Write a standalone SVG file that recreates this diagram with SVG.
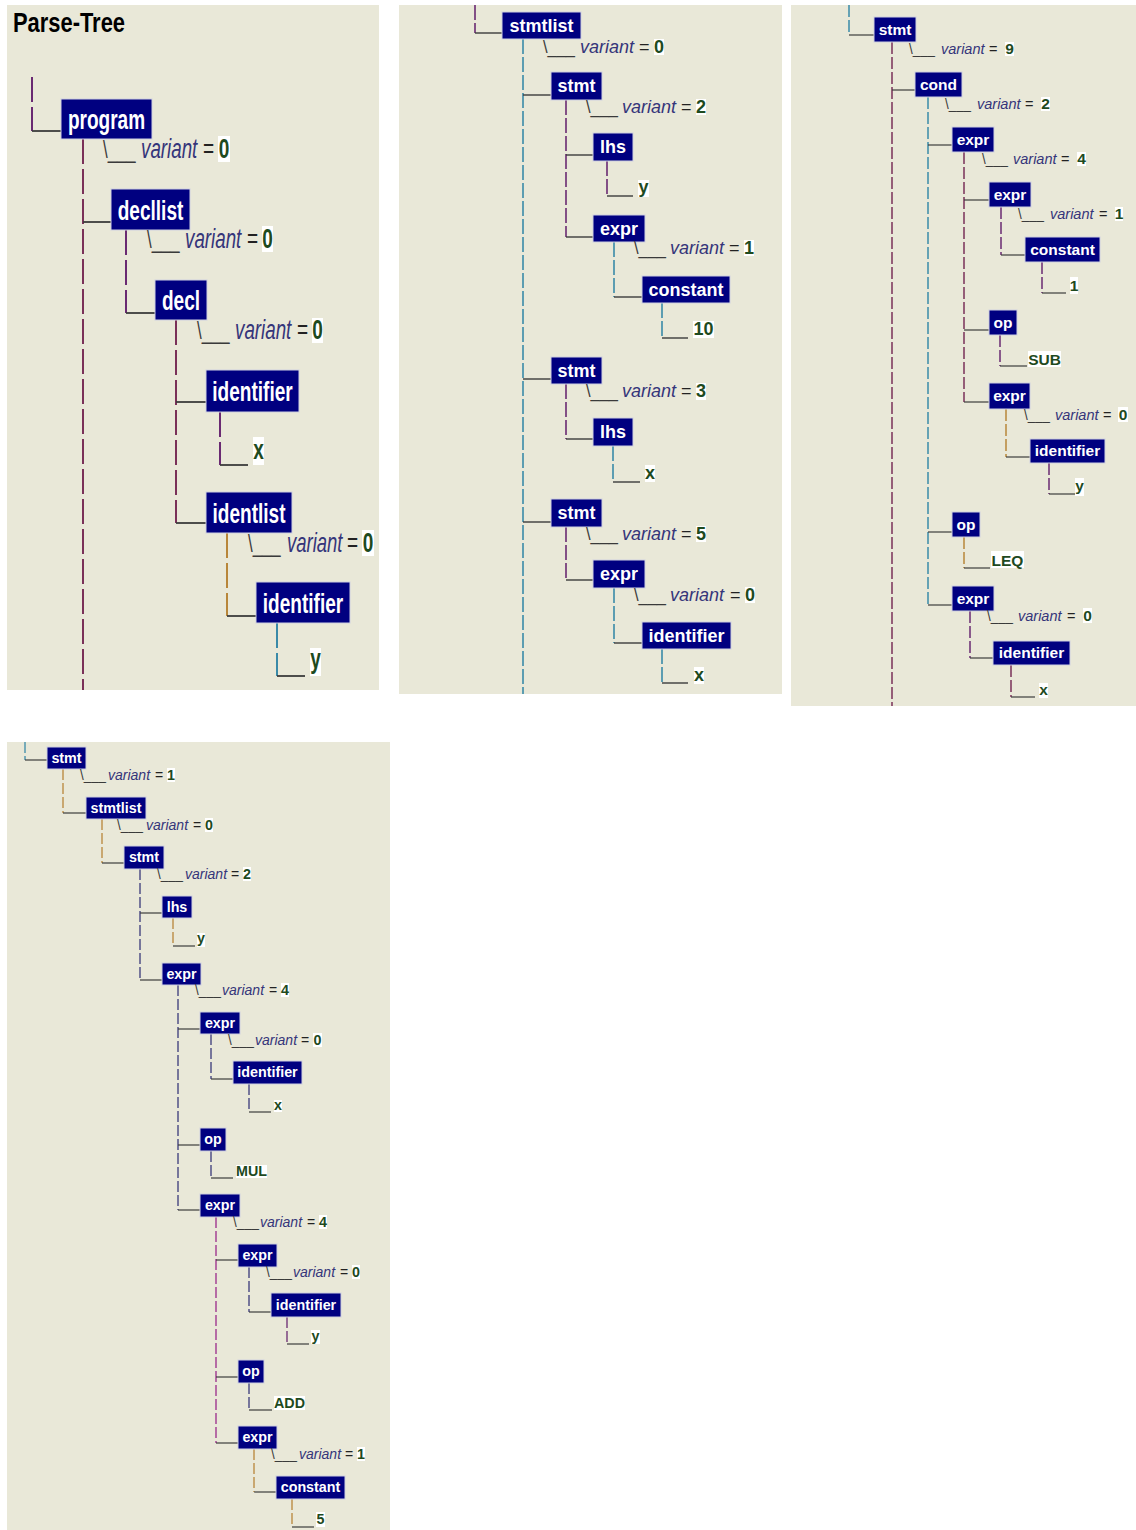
<svg xmlns="http://www.w3.org/2000/svg" width="1136" height="1530" viewBox="0 0 1136 1530">
<style>
text{font-family:"Liberation Sans",Arial,sans-serif}
.bg{fill:#e9e8d8}
.box{fill:#000080;stroke:#cfd0e0;stroke-width:1}
.lbl{fill:#fff;font-weight:bold;text-anchor:middle}
.bs{fill:#3a3a3a}
.var{fill:#35357a;font-style:italic}
.eq{fill:#222}
.vb{fill:#fff}
.val{fill:#1e4a1e;font-weight:bold;text-anchor:middle}
.p1{font-size:28px}
.p1 .bs{font-size:24px}
.p2{font-size:18px}
.p3{font-size:15.5px}
.p3 .var,.p3 .eq,.p3 .bs{font-size:14.5px}
.p4{font-size:14.3px}
.p4 .var,.p4 .eq,.p4 .bs{font-size:14px}
.v{fill:none}
.c1 .v{stroke-width:2;stroke-dasharray:25 5}
.c2 .v{stroke-width:1.6;stroke-dasharray:15 3}
.c3 .v{stroke-width:1.5;stroke-dasharray:12 3}
.c4 .v{stroke-width:1.3;stroke-dasharray:11 3}
.h{stroke:#3c3c3c;fill:none}
.c1 .h{stroke-width:1.8}
.c2 .h{stroke-width:1.4}
.c3 .h,.c4 .h{stroke-width:1.2}
.pu{stroke:#6a2a72}
.ma{stroke:#7a3058}
.te{stroke:#3a8aa8}
.go{stroke:#b8863a}
.db{stroke:#3a3a7a}
.mg{stroke:#9a2a8a}
</style>
<rect width="1136" height="1530" fill="#fff"/>
<rect class="bg" x="7" y="5" width="372" height="685"/>
<rect class="bg" x="399" y="5" width="383" height="689"/>
<rect class="bg" x="791" y="5" width="345" height="701"/>
<rect class="bg" x="7" y="742" width="383" height="788"/>
<text x="13" y="32" font-size="28" font-weight="bold" fill="#000" textLength="112" lengthAdjust="spacingAndGlyphs">Parse-Tree</text>

<g id="connectors">
<g class="c1">
<line class="v pu" x1="32" y1="77" x2="32" y2="131"/><line class="h" x1="32" y1="131" x2="61" y2="131"/>
<line class="v ma" x1="83" y1="139" x2="83" y2="690"/><line class="h" x1="83" y1="222" x2="111" y2="222"/>
<line class="v pu" x1="126" y1="230" x2="126" y2="313"/><line class="h" x1="126" y1="313" x2="155" y2="313"/>
<line class="v ma" x1="176" y1="320" x2="176" y2="523"/><line class="h" x1="176" y1="402" x2="206" y2="402"/><line class="h" x1="176" y1="523" x2="206" y2="523"/>
<line class="v pu" x1="220" y1="412" x2="220" y2="465"/><line class="h" x1="220" y1="465" x2="248" y2="465"/>
<line class="v go" x1="227" y1="533" x2="227" y2="616"/><line class="h" x1="227" y1="616" x2="256" y2="616"/>
<line class="v te" x1="277" y1="623" x2="277" y2="676"/><line class="h" x1="277" y1="676" x2="305" y2="676"/>
</g>
<g class="c2">
<line class="v pu" x1="475" y1="5" x2="475" y2="33"/><line class="h" x1="475" y1="33" x2="502" y2="33"/>
<line class="v te" x1="523" y1="39" x2="523" y2="694"/><line class="h" x1="523" y1="95" x2="551" y2="95"/><line class="h" x1="523" y1="379" x2="551" y2="379"/><line class="h" x1="523" y1="522" x2="551" y2="522"/>
<line class="v pu" x1="566" y1="100" x2="566" y2="237"/><line class="h" x1="566" y1="155" x2="593" y2="155"/><line class="h" x1="566" y1="237" x2="593" y2="237"/>
<line class="v pu" x1="607" y1="161" x2="607" y2="196"/><line class="h" x1="607" y1="196" x2="633" y2="196"/>
<line class="v te" x1="614" y1="242" x2="614" y2="297"/><line class="h" x1="614" y1="297" x2="642" y2="297"/>
<line class="v te" x1="662" y1="303" x2="662" y2="338"/><line class="h" x1="662" y1="338" x2="688" y2="338"/>
<line class="v pu" x1="566" y1="384" x2="566" y2="439"/><line class="h" x1="566" y1="439" x2="593" y2="439"/>
<line class="v te" x1="613" y1="446" x2="613" y2="482"/><line class="h" x1="613" y1="482" x2="640" y2="482"/>
<line class="v pu" x1="566" y1="527" x2="566" y2="580"/><line class="h" x1="566" y1="580" x2="593" y2="580"/>
<line class="v te" x1="614" y1="588" x2="614" y2="643"/><line class="h" x1="614" y1="643" x2="642" y2="643"/>
<line class="v te" x1="662" y1="649" x2="662" y2="683"/><line class="h" x1="662" y1="683" x2="688" y2="683"/>
</g>
<g class="c3">
<line class="v te" x1="849" y1="5" x2="849" y2="35"/><line class="h" x1="849" y1="35" x2="874" y2="35"/>
<line class="v ma" x1="892" y1="42" x2="892" y2="706"/><line class="h" x1="892" y1="90" x2="915" y2="90"/>
<line class="v te" x1="928" y1="97" x2="928" y2="605"/><line class="h" x1="928" y1="145" x2="952" y2="145"/><line class="h" x1="928" y1="532" x2="952" y2="532"/><line class="h" x1="928" y1="605" x2="952" y2="605"/>
<line class="v ma" x1="964" y1="152" x2="964" y2="402"/><line class="h" x1="964" y1="200" x2="989" y2="200"/><line class="h" x1="964" y1="330" x2="989" y2="330"/><line class="h" x1="964" y1="402" x2="989" y2="402"/>
<line class="v pu" x1="1001" y1="207" x2="1001" y2="255"/><line class="h" x1="1001" y1="255" x2="1025" y2="255"/>
<line class="v pu" x1="1042" y1="262" x2="1042" y2="293"/><line class="h" x1="1042" y1="293" x2="1066" y2="293"/>
<line class="v pu" x1="1000" y1="335" x2="1000" y2="366"/><line class="h" x1="1000" y1="366" x2="1027" y2="366"/>
<line class="v go" x1="1006" y1="409" x2="1006" y2="457"/><line class="h" x1="1006" y1="457" x2="1030" y2="457"/>
<line class="v pu" x1="1049" y1="463" x2="1049" y2="494"/><line class="h" x1="1049" y1="494" x2="1075" y2="494"/>
<line class="v go" x1="964" y1="537" x2="964" y2="568"/><line class="h" x1="964" y1="568" x2="990" y2="568"/>
<line class="v pu" x1="970" y1="611" x2="970" y2="658"/><line class="h" x1="970" y1="658" x2="993" y2="658"/>
<line class="v ma" x1="1011" y1="665" x2="1011" y2="697"/><line class="h" x1="1011" y1="697" x2="1035" y2="697"/>
</g>
<g class="c4">
<line class="v te" x1="25" y1="742" x2="25" y2="760"/><line class="h" x1="25" y1="760" x2="47" y2="760"/>
<line class="v go" x1="63" y1="769" x2="63" y2="813"/><line class="h" x1="63" y1="813" x2="86" y2="813"/>
<line class="v go" x1="102" y1="819" x2="102" y2="863"/><line class="h" x1="102" y1="863" x2="124" y2="863"/>
<line class="v db" x1="140" y1="869" x2="140" y2="980"/><line class="h" x1="140" y1="913" x2="162" y2="913"/><line class="h" x1="140" y1="980" x2="162" y2="980"/>
<line class="v go" x1="173" y1="918" x2="173" y2="946"/><line class="h" x1="173" y1="946" x2="195" y2="946"/>
<line class="v db" x1="178" y1="985" x2="178" y2="1210"/><line class="h" x1="178" y1="1029" x2="200" y2="1029"/><line class="h" x1="178" y1="1145" x2="200" y2="1145"/><line class="h" x1="178" y1="1210" x2="200" y2="1210"/>
<line class="v db" x1="211" y1="1034" x2="211" y2="1079"/><line class="h" x1="211" y1="1079" x2="233" y2="1079"/>
<line class="v db" x1="249" y1="1084" x2="249" y2="1112"/><line class="h" x1="249" y1="1112" x2="271" y2="1112"/>
<line class="v db" x1="211" y1="1151" x2="211" y2="1178"/><line class="h" x1="211" y1="1178" x2="233" y2="1178"/>
<line class="v mg" x1="216" y1="1217" x2="216" y2="1443"/><line class="h" x1="216" y1="1260" x2="238" y2="1260"/><line class="h" x1="216" y1="1377" x2="238" y2="1377"/><line class="h" x1="216" y1="1443" x2="238" y2="1443"/>
<line class="v db" x1="249" y1="1267" x2="249" y2="1312"/><line class="h" x1="249" y1="1312" x2="271" y2="1312"/>
<line class="v pu" x1="287" y1="1317" x2="287" y2="1344"/><line class="h" x1="287" y1="1344" x2="309" y2="1344"/>
<line class="v db" x1="249" y1="1383" x2="249" y2="1410"/><line class="h" x1="249" y1="1410" x2="272" y2="1410"/>
<line class="v go" x1="254" y1="1449" x2="254" y2="1492"/><line class="h" x1="254" y1="1492" x2="276" y2="1492"/>
<line class="v go" x1="292" y1="1499" x2="292" y2="1527"/><line class="h" x1="292" y1="1527" x2="314" y2="1527"/>
</g>
</g>

<g class="p1">
<g id="p1-program"><rect class="box" x="61" y="99" width="91" height="40"/><text class="lbl" transform="translate(106.5,129) scale(0.68,1)">program</text>
<text class="bs" transform="translate(103,158) scale(0.7,1)">\___</text><text class="var" transform="translate(141,158) scale(0.67,1)">variant</text><text class="eq" transform="translate(203,158) scale(0.68,1)">=</text><rect class="vb" x="218" y="136" width="12" height="26"/><text class="val" transform="translate(224,158) scale(0.68,1)">0</text></g>
<g id="p1-decllist"><rect class="box" x="111" y="189" width="79" height="41"/><text class="lbl" transform="translate(150.5,220) scale(0.68,1)">decllist</text>
<text class="bs" transform="translate(147,248) scale(0.7,1)">\___</text><text class="var" transform="translate(185,248) scale(0.67,1)">variant</text><text class="eq" transform="translate(247,248) scale(0.68,1)">=</text><rect class="vb" x="262" y="226" width="11" height="26"/><text class="val" transform="translate(267.5,248) scale(0.68,1)">0</text></g>
<g id="p1-decl"><rect class="box" x="155" y="280" width="52" height="40"/><text class="lbl" transform="translate(181,310) scale(0.68,1)">decl</text>
<text class="bs" transform="translate(197,339) scale(0.7,1)">\___</text><text class="var" transform="translate(235,339) scale(0.67,1)">variant</text><text class="eq" transform="translate(297,339) scale(0.68,1)">=</text><rect class="vb" x="312" y="318" width="11" height="25"/><text class="val" transform="translate(317.5,339) scale(0.68,1)">0</text></g>
<g id="p1-identifier-x"><rect class="box" x="206" y="370" width="93" height="42"/><text class="lbl" transform="translate(252.5,401) scale(0.68,1)">identifier</text>
<rect class="vb" x="253" y="437" width="11" height="28"/><text class="val" transform="translate(258.5,459) scale(0.68,1)">x</text></g>
<g id="p1-identlist"><rect class="box" x="206" y="492" width="86" height="41"/><text class="lbl" transform="translate(249,523) scale(0.68,1)">identlist</text>
<text class="bs" transform="translate(248,552) scale(0.7,1)">\___</text><text class="var" transform="translate(287,552) scale(0.66,1)">variant</text><text class="eq" transform="translate(347,552) scale(0.68,1)">=</text><rect class="vb" x="362" y="530" width="12" height="26"/><text class="val" transform="translate(368,552) scale(0.68,1)">0</text></g>
<g id="p1-identifier-y"><rect class="box" x="256" y="582" width="94" height="41"/><text class="lbl" transform="translate(303,613) scale(0.68,1)">identifier</text>
<rect class="vb" x="310" y="648" width="11" height="28"/><text class="val" transform="translate(315.5,668) scale(0.68,1)">y</text></g>
</g>

<g class="p2">
<g id="p2-stmtlist"><rect class="box" x="502" y="12" width="79" height="27"/><text class="lbl" x="541.5" y="32">stmtlist</text>
<text class="bs" x="543" y="53" textLength="32" lengthAdjust="spacingAndGlyphs">\___</text><text class="var" x="580" y="53">variant</text><text class="eq" x="639" y="53">=</text><rect class="vb" x="654" y="39" width="10" height="16"/><text class="val" x="659" y="53">0</text></g>
<g id="p2-stmt1"><rect class="box" x="551" y="72" width="51" height="28"/><text class="lbl" x="576.5" y="92">stmt</text>
<text class="bs" x="586" y="113" textLength="32" lengthAdjust="spacingAndGlyphs">\___</text><text class="var" x="622" y="113">variant</text><text class="eq" x="681" y="113">=</text><rect class="vb" x="696" y="99" width="10" height="16"/><text class="val" x="701" y="113">2</text></g>
<g id="p2-lhs1"><rect class="box" x="593" y="133" width="40" height="28"/><text class="lbl" x="613" y="153">lhs</text>
<rect class="vb" x="638" y="180" width="11" height="17"/><text class="val" x="643.5" y="193">y</text></g>
<g id="p2-expr1"><rect class="box" x="593" y="215" width="52" height="27"/><text class="lbl" x="619" y="235">expr</text>
<text class="bs" x="634" y="254" textLength="32" lengthAdjust="spacingAndGlyphs">\___</text><text class="var" x="670" y="254">variant</text><text class="eq" x="729" y="254">=</text><rect class="vb" x="744" y="240" width="10" height="16"/><text class="val" x="749" y="254">1</text></g>
<g id="p2-constant"><rect class="box" x="642" y="276" width="88" height="27"/><text class="lbl" x="686" y="296">constant</text>
<rect class="vb" x="693" y="321" width="21" height="17"/><text class="val" x="703.5" y="335">10</text></g>
<g id="p2-stmt2"><rect class="box" x="551" y="357" width="51" height="27"/><text class="lbl" x="576.5" y="377">stmt</text>
<text class="bs" x="586" y="397" textLength="32" lengthAdjust="spacingAndGlyphs">\___</text><text class="var" x="622" y="397">variant</text><text class="eq" x="681" y="397">=</text><rect class="vb" x="696" y="383" width="10" height="17"/><text class="val" x="701" y="397">3</text></g>
<g id="p2-lhs2"><rect class="box" x="593" y="418" width="40" height="28"/><text class="lbl" x="613" y="438">lhs</text>
<rect class="vb" x="645" y="465" width="10" height="17"/><text class="val" x="650" y="479">x</text></g>
<g id="p2-stmt3"><rect class="box" x="551" y="499" width="51" height="28"/><text class="lbl" x="576.5" y="519">stmt</text>
<text class="bs" x="586" y="540" textLength="32" lengthAdjust="spacingAndGlyphs">\___</text><text class="var" x="622" y="540">variant</text><text class="eq" x="681" y="540">=</text><rect class="vb" x="696" y="526" width="10" height="16"/><text class="val" x="701" y="540">5</text></g>
<g id="p2-expr2"><rect class="box" x="593" y="560" width="52" height="28"/><text class="lbl" x="619" y="580">expr</text>
<text class="bs" x="634" y="601" textLength="32" lengthAdjust="spacingAndGlyphs">\___</text><text class="var" x="670" y="601">variant</text><text class="eq" x="730" y="601">=</text><rect class="vb" x="745" y="587" width="10" height="16"/><text class="val" x="750" y="601">0</text></g>
<g id="p2-identifier"><rect class="box" x="642" y="622" width="89" height="27"/><text class="lbl" x="686.5" y="642">identifier</text>
<rect class="vb" x="694" y="667" width="10" height="17"/><text class="val" x="699" y="681">x</text></g>
</g>

<g class="p3">
<g id="p3-stmt"><rect class="box" x="874" y="17" width="42" height="25"/><text class="lbl" x="895" y="35">stmt</text>
<text class="bs" x="909" y="54" textLength="26" lengthAdjust="spacingAndGlyphs">\___</text><text class="var" x="941" y="54">variant</text><text class="eq" x="989" y="54">=</text><rect class="vb" x="1005" y="42" width="9" height="14"/><text class="val" x="1009.5" y="54">9</text></g>
<g id="p3-cond"><rect class="box" x="915" y="72" width="47" height="25"/><text class="lbl" x="938.5" y="90">cond</text>
<text class="bs" x="945" y="109" textLength="26" lengthAdjust="spacingAndGlyphs">\___</text><text class="var" x="977" y="109">variant</text><text class="eq" x="1025" y="109">=</text><rect class="vb" x="1041" y="97" width="9" height="14"/><text class="val" x="1045.5" y="109">2</text></g>
<g id="p3-expr1"><rect class="box" x="952" y="127" width="42" height="25"/><text class="lbl" x="973" y="145">expr</text>
<text class="bs" x="982" y="164" textLength="26" lengthAdjust="spacingAndGlyphs">\___</text><text class="var" x="1013" y="164">variant</text><text class="eq" x="1061" y="164">=</text><rect class="vb" x="1077" y="152" width="9" height="14"/><text class="val" x="1081.5" y="164">4</text></g>
<g id="p3-expr2"><rect class="box" x="989" y="182" width="42" height="25"/><text class="lbl" x="1010" y="200">expr</text>
<text class="bs" x="1018" y="219" textLength="26" lengthAdjust="spacingAndGlyphs">\___</text><text class="var" x="1050" y="219">variant</text><text class="eq" x="1099" y="219">=</text><rect class="vb" x="1115" y="207" width="8" height="14"/><text class="val" x="1119" y="219">1</text></g>
<g id="p3-constant"><rect class="box" x="1025" y="237" width="75" height="25"/><text class="lbl" x="1062.5" y="255">constant</text>
<rect class="vb" x="1070" y="277" width="8" height="17"/><text class="val" x="1074" y="291">1</text></g>
<g id="p3-op-sub"><rect class="box" x="989" y="310" width="28" height="25"/><text class="lbl" x="1003" y="328">op</text>
<rect class="vb" x="1028" y="351" width="33" height="16"/><text class="val" x="1044.5" y="365">SUB</text></g>
<g id="p3-expr3"><rect class="box" x="989" y="383" width="41" height="26"/><text class="lbl" x="1009.5" y="401">expr</text>
<text class="bs" x="1024" y="420" textLength="26" lengthAdjust="spacingAndGlyphs">\___</text><text class="var" x="1055" y="420">variant</text><text class="eq" x="1103" y="420">=</text><rect class="vb" x="1118" y="407" width="10" height="15"/><text class="val" x="1123" y="420">0</text></g>
<g id="p3-identifier-y"><rect class="box" x="1030" y="439" width="75" height="24"/><text class="lbl" x="1067.5" y="456">identifier</text>
<rect class="vb" x="1075" y="478" width="9" height="18"/><text class="val" x="1079.5" y="491">y</text></g>
<g id="p3-op-leq"><rect class="box" x="952" y="512" width="28" height="25"/><text class="lbl" x="966" y="530">op</text>
<rect class="vb" x="991" y="551" width="33" height="17"/><text class="val" x="1007.5" y="566">LEQ</text></g>
<g id="p3-expr4"><rect class="box" x="952" y="586" width="42" height="25"/><text class="lbl" x="973" y="604">expr</text>
<text class="bs" x="987" y="621" textLength="26" lengthAdjust="spacingAndGlyphs">\___</text><text class="var" x="1018" y="621">variant</text><text class="eq" x="1067" y="621">=</text><rect class="vb" x="1083" y="608" width="9" height="15"/><text class="val" x="1087.5" y="621">0</text></g>
<g id="p3-identifier-x"><rect class="box" x="993" y="641" width="77" height="24"/><text class="lbl" x="1031.5" y="658">identifier</text>
<rect class="vb" x="1039" y="683" width="9" height="15"/><text class="val" x="1043.5" y="695">x</text></g>
</g>

<g class="p4">
<g id="p4-stmt1"><rect class="box" x="47" y="747" width="39" height="22"/><text class="lbl" x="66.5" y="763">stmt</text>
<text class="bs" x="80" y="780" textLength="26" lengthAdjust="spacingAndGlyphs">\___</text><text class="var" x="108" y="780">variant</text><text class="eq" x="155" y="780">=</text><rect class="vb" x="167" y="768" width="8" height="14"/><text class="val" x="171" y="780">1</text></g>
<g id="p4-stmtlist"><rect class="box" x="86" y="797" width="60" height="22"/><text class="lbl" x="116" y="813">stmtlist</text>
<text class="bs" x="117" y="830" textLength="26" lengthAdjust="spacingAndGlyphs">\___</text><text class="var" x="146" y="830">variant</text><text class="eq" x="193" y="830">=</text><rect class="vb" x="205" y="818" width="8" height="14"/><text class="val" x="209" y="830">0</text></g>
<g id="p4-stmt2"><rect class="box" x="124" y="846" width="40" height="23"/><text class="lbl" x="144" y="862">stmt</text>
<text class="bs" x="157" y="879" textLength="26" lengthAdjust="spacingAndGlyphs">\___</text><text class="var" x="185" y="879">variant</text><text class="eq" x="231" y="879">=</text><rect class="vb" x="243" y="867" width="8" height="14"/><text class="val" x="247" y="879">2</text></g>
<g id="p4-lhs"><rect class="box" x="162" y="896" width="30" height="22"/><text class="lbl" x="177" y="912">lhs</text>
<rect class="vb" x="197" y="933" width="8" height="14"/><text class="val" x="201" y="943">y</text></g>
<g id="p4-expr1"><rect class="box" x="162" y="963" width="39" height="22"/><text class="lbl" x="181.5" y="979">expr</text>
<text class="bs" x="195" y="995" textLength="26" lengthAdjust="spacingAndGlyphs">\___</text><text class="var" x="222" y="995">variant</text><text class="eq" x="269" y="995">=</text><rect class="vb" x="281" y="983" width="8" height="14"/><text class="val" x="285" y="995">4</text></g>
<g id="p4-expr2"><rect class="box" x="200" y="1012" width="40" height="22"/><text class="lbl" x="220" y="1028">expr</text>
<text class="bs" x="228" y="1045" textLength="26" lengthAdjust="spacingAndGlyphs">\___</text><text class="var" x="255" y="1045">variant</text><text class="eq" x="301" y="1045">=</text><rect class="vb" x="313" y="1033" width="9" height="14"/><text class="val" x="317.5" y="1045">0</text></g>
<g id="p4-identifier-x"><rect class="box" x="233" y="1061" width="69" height="23"/><text class="lbl" x="267.5" y="1077">identifier</text>
<rect class="vb" x="274" y="1100" width="8" height="12"/><text class="val" x="278" y="1110">x</text></g>
<g id="p4-op-mul"><rect class="box" x="200" y="1128" width="26" height="23"/><text class="lbl" x="213" y="1144">op</text>
<rect class="vb" x="236" y="1165" width="31" height="13"/><text class="val" x="251.5" y="1176">MUL</text></g>
<g id="p4-expr3"><rect class="box" x="200" y="1194" width="40" height="23"/><text class="lbl" x="220" y="1210">expr</text>
<text class="bs" x="233" y="1227" textLength="26" lengthAdjust="spacingAndGlyphs">\___</text><text class="var" x="260" y="1227">variant</text><text class="eq" x="307" y="1227">=</text><rect class="vb" x="319" y="1215" width="8" height="14"/><text class="val" x="323" y="1227">4</text></g>
<g id="p4-expr4"><rect class="box" x="238" y="1244" width="39" height="23"/><text class="lbl" x="257.5" y="1260">expr</text>
<text class="bs" x="266" y="1277" textLength="26" lengthAdjust="spacingAndGlyphs">\___</text><text class="var" x="293" y="1277">variant</text><text class="eq" x="340" y="1277">=</text><rect class="vb" x="352" y="1265" width="8" height="14"/><text class="val" x="356" y="1277">0</text></g>
<g id="p4-identifier-y"><rect class="box" x="271" y="1293" width="70" height="24"/><text class="lbl" x="306" y="1310">identifier</text>
<rect class="vb" x="311" y="1330" width="9" height="14"/><text class="val" x="315.5" y="1341">y</text></g>
<g id="p4-op-add"><rect class="box" x="238" y="1360" width="26" height="23"/><text class="lbl" x="251" y="1376">op</text>
<rect class="vb" x="274" y="1396" width="31" height="14"/><text class="val" x="289.5" y="1408">ADD</text></g>
<g id="p4-expr5"><rect class="box" x="238" y="1426" width="39" height="23"/><text class="lbl" x="257.5" y="1442">expr</text>
<text class="bs" x="271" y="1459" textLength="26" lengthAdjust="spacingAndGlyphs">\___</text><text class="var" x="299" y="1459">variant</text><text class="eq" x="345" y="1459">=</text><rect class="vb" x="357" y="1447" width="8" height="14"/><text class="val" x="361" y="1459">1</text></g>
<g id="p4-constant"><rect class="box" x="276" y="1476" width="69" height="23"/><text class="lbl" x="310.5" y="1492">constant</text>
<rect class="vb" x="316" y="1512" width="9" height="15"/><text class="val" x="320.5" y="1524">5</text></g>
</g>
</svg>
